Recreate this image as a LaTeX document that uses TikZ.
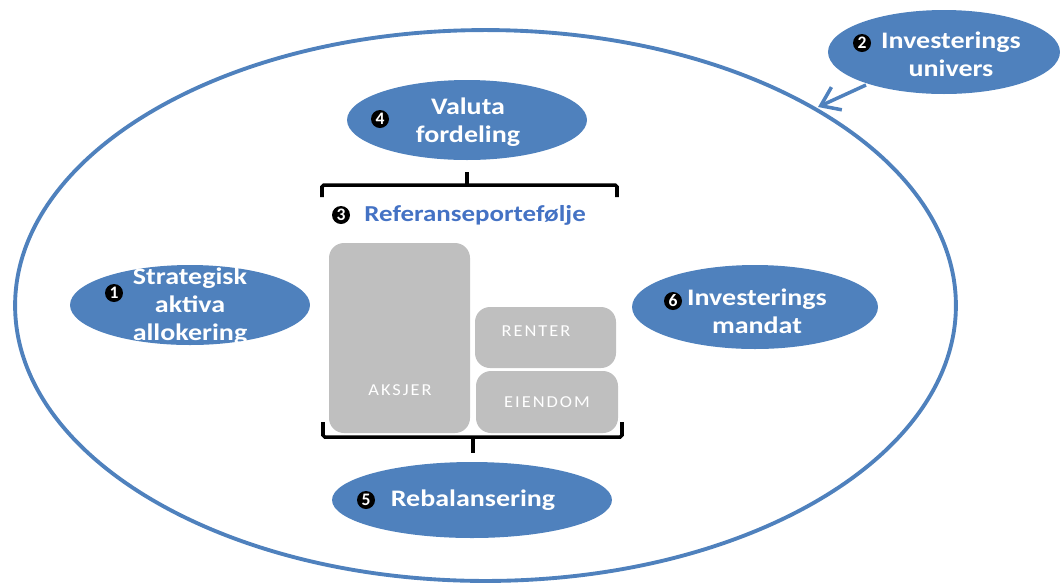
\documentclass[tikz,border=0pt]{standalone}
\usepackage{fontspec}
\setmainfont{Carlito}
\newfontfamily\ovalfont{Carlito}[FakeStretch=1.18]
\newfontfamily\boxfont{Carlito}[FakeStretch=1.1,LetterSpace=12]
\usetikzlibrary{shapes.geometric,arrows.meta}
\definecolor{ovblue}{RGB}{79,129,189}
\definecolor{boxgray}{RGB}{191,191,191}
\definecolor{titleblue}{RGB}{68,114,196}
\tikzset{
  oval/.style={ellipse, fill=ovblue, draw=none, inner sep=0pt},
  ovaltext/.style={inner sep=0pt, text=white, font=\ovalfont\bfseries\fontsize{13.5}{16}\selectfont, align=center},
  badge/.style={circle, fill=black, text=white, inner sep=0pt, minimum size=0.36cm, font=\bfseries\fontsize{10}{10}\selectfont},
  assetbox/.style={rounded corners=0.3cm, fill=boxgray, draw=none},
  assetlabel/.style={text=white, font=\boxfont\fontsize{9.5}{11}\selectfont},
  bracketline/.style={draw=black, line width=2pt, rounded corners=1pt},
}
\begin{document}
\begin{tikzpicture}[x=0.02cm,y=-0.02cm]
\useasboundingbox (0,0) rectangle (1062,583);
% big ellipse
\node[ellipse, draw=ovblue, line width=2.2pt, minimum width=18.82cm, minimum height=11.02cm, inner sep=0pt] (outer) at (485.5,305.5) {};
% ellipse 2 + arrow
\node[oval, minimum width=4.64cm, minimum height=1.68cm] (e2) at (944,52) {};
\node[ovaltext] (t2) at (951,54) {Investerings\\univers};
\node[badge] (b2) at (862,43) {2};
\coordinate (a2s) at (866,85);
\coordinate (a2e) at (818,107);
\draw[ovblue, line width=2pt, -{Straight Barb[length=3.5mm,width=5mm]}] (a2s) -- (a2e);
% ellipse 4
\node[oval, minimum width=4.8cm, minimum height=1.6cm] (e4) at (467,120) {};
\node[ovaltext] (t4) at (468,122) {Valuta\\fordeling};
\node[badge] (b4) at (380,119) {4};
% top bracket
\coordinate (tb1) at (322,197); \coordinate (tb2) at (322,185);
\coordinate (tb3) at (617,185); \coordinate (tb4) at (617,197);
\coordinate (tbm) at (467,185); \coordinate (tbt) at (467,172);
\draw[bracketline] (tb1) -- (tb2) -- (tb3) -- (tb4);
\draw[bracketline] (tbm) -- (tbt);
% title
\node[badge] (b3) at (341,215) {3};
\node[anchor=west, text=titleblue, font=\ovalfont\bfseries\fontsize{13}{16}\selectfont, inner sep=0pt] (title) at (364,215) {Referanseportefølje};
% asset boxes
\path[assetbox] (329,243) rectangle (470,433);
\path[assetbox] (475,307) rectangle (616,368);
\path[assetbox] (476,371) rectangle (618,433);
\node[assetlabel] (aksjer) at (400,390) {AKSJER};
\node[assetlabel] (renter) at (536,331) {RENTER};
\node[assetlabel] (eiendom) at (547,402) {EIENDOM};
% bottom bracket
\coordinate (bb1) at (323,422); \coordinate (bb2) at (323,437);
\coordinate (bb3) at (622,437); \coordinate (bb4) at (622,422);
\coordinate (bbm) at (473,437); \coordinate (bbt) at (473,453);
\draw[bracketline] (bb1) -- (bb2) -- (bb3) -- (bb4);
\draw[bracketline] (bbm) -- (bbt);
% ellipse 5
\node[oval, minimum width=5.6cm, minimum height=1.52cm] (e5) at (472,500) {};
\node[ovaltext] (t5) at (473,500) {Rebalansering};
\node[badge] (b5) at (366,500) {5};
% ellipse 1
\node[oval, minimum width=4.8cm, minimum height=1.6cm] (e1) at (190,305) {};
\node[ovaltext] (t1) at (190,306) {Strategisk\\aktiva\\allokering};
\node[badge] (b1) at (114,293) {1};
% ellipse 6
\node[oval, minimum width=4.92cm, minimum height=1.68cm] (e6) at (755,307) {};
\node[ovaltext] (t6) at (757,311) {Investerings\\mandat};
\node[badge] (b6) at (673,301) {6};
\end{tikzpicture}
\end{document}
